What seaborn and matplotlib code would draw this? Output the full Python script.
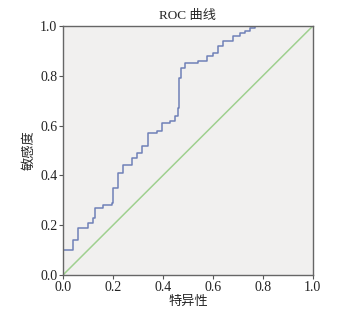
import matplotlib
matplotlib.use("Agg")
import pandas as pd
import seaborn as sns
import matplotlib.pyplot as plt

sns.set_theme(style="white")
plt.rcParams['font.family'] = ['Liberation Serif', 'Noto Sans CJK SC']

# ROC 曲线上的点 (1-特异性, 敏感度)
fpr = [0, 0, 0.039, 0.06, 0.10, 0.12, 0.128, 0.16, 0.196, 0.20, 0.22, 0.24, 0.276,
       0.296, 0.316, 0.34, 0.376, 0.396, 0.428, 0.448, 0.46, 0.464, 0.472,
       0.488, 0.54, 0.576, 0.60, 0.62, 0.64, 0.68, 0.708, 0.728, 0.748, 0.768, 1.0]
tpr = [0, 0.10, 0.14, 0.19, 0.21, 0.23, 0.27, 0.28, 0.29, 0.35, 0.41, 0.44, 0.47,
       0.49, 0.52, 0.57, 0.58, 0.61, 0.62, 0.64, 0.67, 0.79, 0.83,
       0.85, 0.86, 0.88, 0.89, 0.92, 0.94, 0.96, 0.97, 0.98, 0.99, 1.0, 1.0]
ref_line = [0, 1]
ticks = [0.0, 0.2, 0.4, 0.6, 0.8, 1.0]

df = pd.DataFrame({"fpr": fpr, "tpr": tpr})

fig = plt.figure(figsize=(3.48, 3.17), dpi=100)
ax = fig.add_axes([0.181, 0.1325, 0.718, 0.7855])
ax.set_facecolor("#f1f0ef")

sns.lineplot(x=ref_line, y=ref_line, ax=ax, color="#9fd08f", linewidth=1.1)
sns.lineplot(data=df, x="fpr", y="tpr", ax=ax, sort=False, estimator=None,
             drawstyle="steps-post", color="#6f80b8", linewidth=1.1)

ax.set_xlim(0, 1)
ax.set_ylim(0, 1)
ax.set_xticks(ticks)
ax.set_yticks(ticks)
ax.set_xticklabels([f"{t:.1f}" for t in ticks])
ax.set_yticklabels([f"{t:.1f}" for t in ticks])
ax.tick_params(axis="both", direction="out", length=3, width=0.8, color="#555555",
               labelsize=10, pad=1, bottom=True, left=True, labelcolor="#222222")
for s in ax.spines.values():
    s.set_color("#666666")
    s.set_linewidth(1.0)

ax.set_title("ROC 曲线", fontsize=9.5, pad=5, family=['Liberation Serif', 'Noto Sans CJK SC'])
ax.set_xlabel("特异性", fontsize=9.5, labelpad=1, family=['Noto Sans CJK SC'])
ax.set_ylabel("敏感度", fontsize=9.5, labelpad=3, family=['Noto Sans CJK SC'])

fig.savefig("out.png", dpi=100)
